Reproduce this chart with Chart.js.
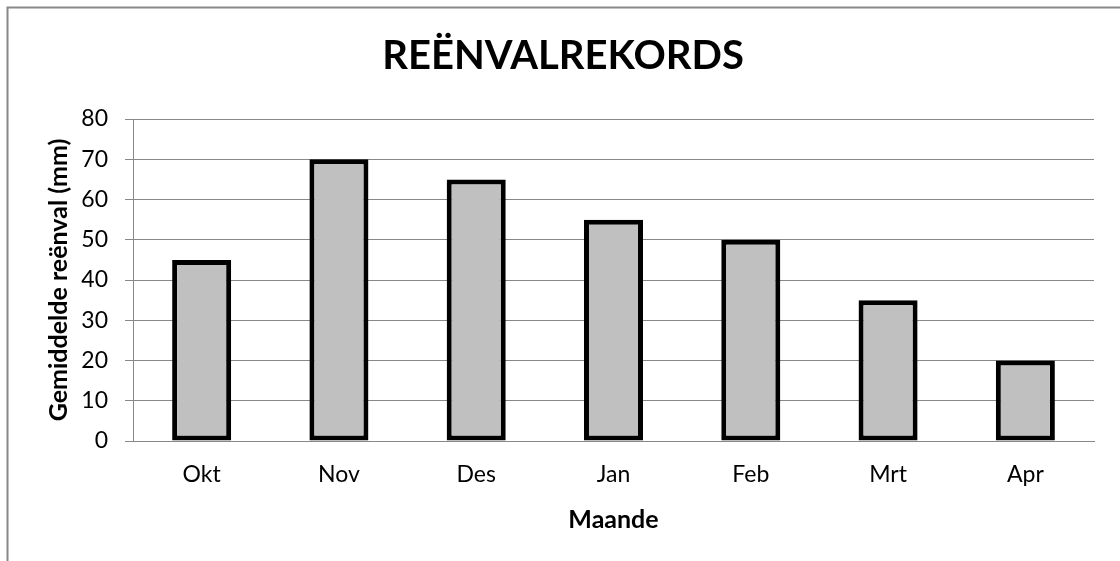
<!DOCTYPE html>
<html>
<head>
<meta charset="utf-8">
<script src="https://cdn.jsdelivr.net/npm/chart.js@4"></script>
<style>
  html, body { margin: 0; padding: 0; background: #ffffff; }
  #wrap { width: 1120px; height: 561px; position: relative; }
</style>
</head>
<body>
<div id="wrap"><canvas id="c" width="1120" height="561"></canvas></div>
<script>
const months = ["Okt", "Nov", "Des", "Jan", "Feb", "Mrt", "Apr"];
const rainfall = [45, 70, 65, 55, 50, 35, 20];
const chartTitle = "REËNVALREKORDS";
const yTitle = "Gemiddelde reënval (mm)";
const xTitle = "Maande";
const yMin = 0, yMax = 80, yStep = 10;

const FONT = "Lato, 'Open Sans', sans-serif";

const framePlugin = {
  id: 'frame',
  beforeDraw(chart) {
    const ctx = chart.ctx;
    ctx.save();
    ctx.fillStyle = '#ffffff';
    ctx.fillRect(0, 0, chart.width, chart.height);
    ctx.strokeStyle = '#888888';
    ctx.lineWidth = 2;
    ctx.beginPath();
    ctx.moveTo(7.5, chart.height + 5);
    ctx.lineTo(7.5, 7.5);
    ctx.lineTo(chart.width + 5, 7.5);
    ctx.stroke();
    ctx.restore();
  }
};

new Chart(document.getElementById('c'), {
  type: 'bar',
  data: {
    labels: months,
    datasets: [{
      data: rainfall,
      yAxisID: 'y',
      backgroundColor: '#c0c0c0',
      borderColor: '#000000',
      borderWidth: 5,
      borderSkipped: false,
      categoryPercentage: 1.0,
      barPercentage: 0.43
    }]
  },
  options: {
    responsive: false,
    animation: false,
    devicePixelRatio: 1,
    layout: { padding: { left: 6, right: 0, top: 0, bottom: 0 } },
    plugins: {
      legend: { display: false },
      tooltip: { enabled: false },
      title: {
        display: true,
        text: chartTitle,
        color: '#000000',
        font: { family: FONT, size: 40, weight: 'bold', lineHeight: 1.2 },
        padding: { top: 32.5, bottom: 38.5 }
      }
    },
    scales: {
      x: {
        grid: { display: false, drawTicks: false },
        border: { display: true, color: '#888888', width: 1 },
        ticks: { color: '#000000', font: { family: FONT, size: 23 }, padding: 20 },
        title: {
          display: true, text: xTitle, color: '#000000',
          font: { family: FONT, size: 25, weight: 'bold', lineHeight: 1.2 },
          padding: { top: 0, bottom: 26 }
        },
        afterFit(scale) { scale.height = 120; }
      },
      y: {
        position: 'left',
        min: yMin, max: yMax,
        ticks: { stepSize: yStep, color: '#000000', font: { family: FONT, size: 23 }, padding: 17 },
        grid: { color: '#888888', lineWidth: 1, tickLength: 8, drawTicks: true },
        border: { display: true, color: '#888888', width: 1 },
        title: {
          display: true, text: yTitle, color: '#000000',
          font: { family: FONT, size: 25, weight: 'bold', lineHeight: 1.2 },
          padding: { top: 38, bottom: 0 }
        },
        afterFit(scale) { scale.width = 127; }
      },
      yRight: {
        position: 'right',
        display: true,
        min: yMin, max: yMax,
        grid: { display: false, drawTicks: false },
        border: { display: false },
        ticks: { display: false },
        afterFit(scale) { scale.width = 26; }
      }
    }
  },
  plugins: [framePlugin]
});
</script>
</body>
</html>
